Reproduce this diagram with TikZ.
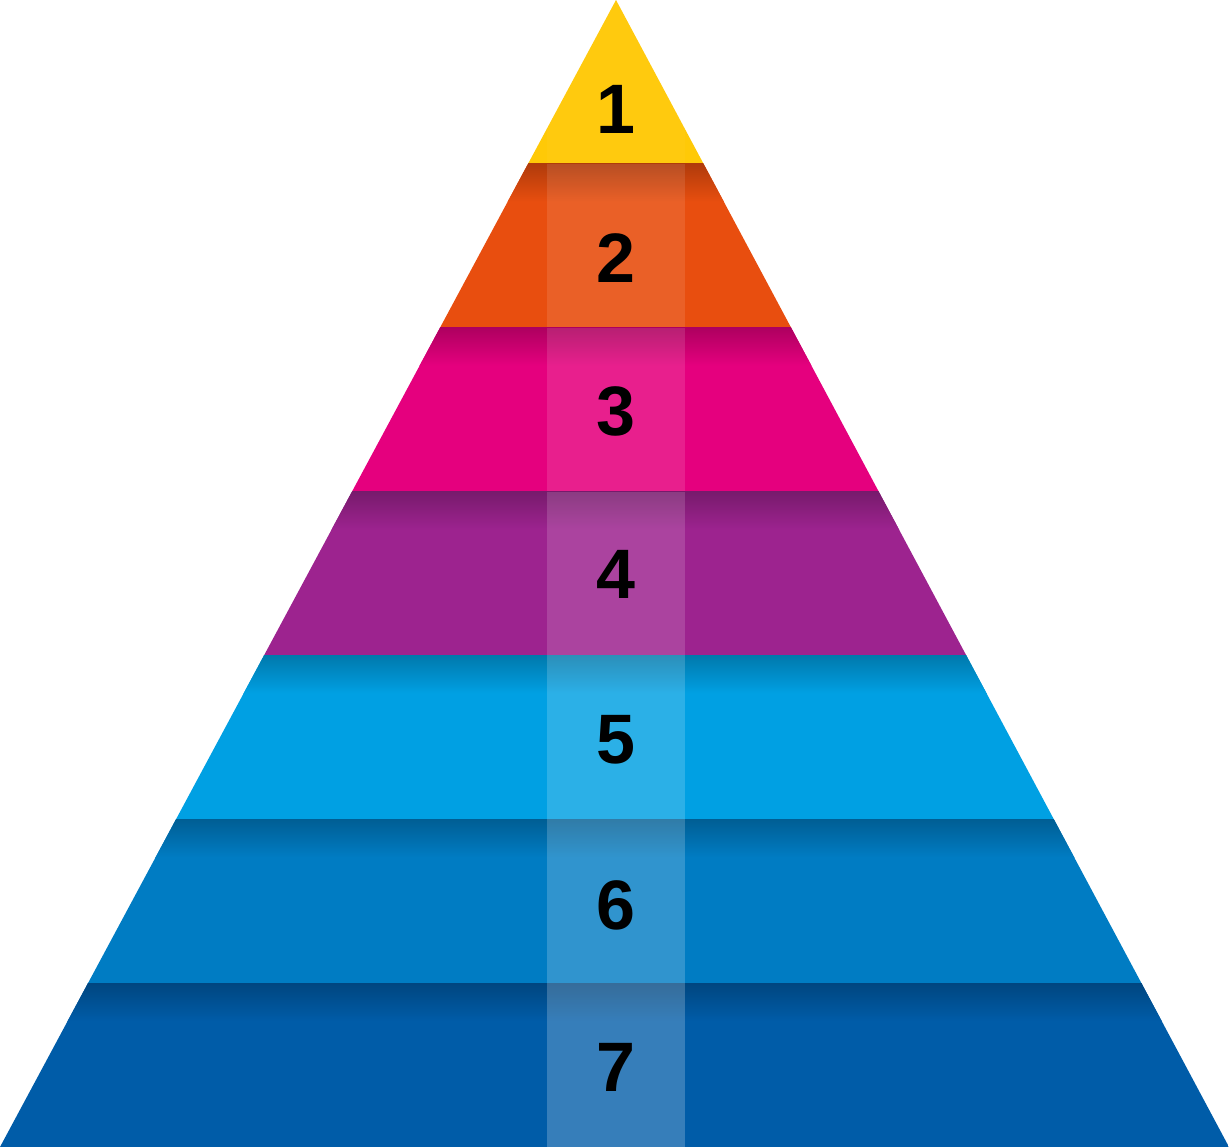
\documentclass[tikz,border=0pt]{standalone}
\usepackage{fontspec}
\setmainfont{Liberation Sans}
\definecolor{cA}{HTML}{FFC907}
\definecolor{cB}{HTML}{E84E0F}
\definecolor{cC}{HTML}{E5007E}
\definecolor{cD}{HTML}{9D238F}
\definecolor{cE}{HTML}{00A0E3}
\definecolor{cF}{HTML}{007CC3}
\definecolor{cG}{HTML}{005CA8}
\tikzset{num/.style={font=\fontsize{70}{70}\selectfont\bfseries, text=black, inner sep=0pt, anchor=center}}
\begin{document}
\begin{tikzpicture}[x=1pt,y=-1pt]
\useasboundingbox (0,0) rectangle (1229,1147);
\begin{scope}
\clip (616,0) -- (1229,1147) -- (0,1147) -- cycle;
\foreach \c/\op [count=\i from 0] in {cA/0.03,cB/0.1,cC/0.12,cD/0.15,cE/0.17,cF/0.19,cG/0.21}{
  \pgfmathsetmacro{\ya}{163.857*\i}
  \pgfmathsetmacro{\yb}{163.857*(\i+1)}
  \fill[\c] (-5,\ya) rectangle (1234,\yb+0.5);
  \ifnum\i>0
    \shade[top color=\c!76!black, bottom color=\c] (-5,\ya) rectangle (1234,\ya+38);
  \fi
  \fill[white, fill opacity=\op] (547,\ya) rectangle (685,\yb);
}
\end{scope}
\node[num] (n1) at (616,109) {1};
\node[num] (n2) at (616,258) {2};
\node[num] (n3) at (616,411) {3};
\node[num] (n4) at (616,574) {4};
\node[num] (n5) at (616,740) {5};
\node[num] (n6) at (616,905) {6};
\node[num] (n7) at (616,1067) {7};
\end{tikzpicture}
\end{document}
